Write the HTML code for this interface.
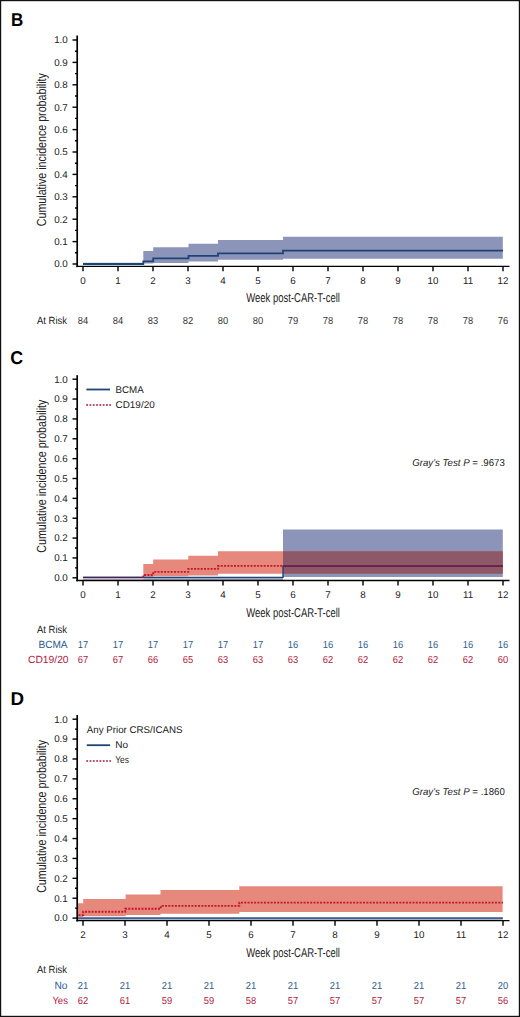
<!DOCTYPE html>
<html><head><meta charset="utf-8"><title>Cumulative incidence</title>
<style>html,body{margin:0;padding:0;background:#fff;}svg{display:block;}</style>
</head><body>
<svg width="520" height="1017" viewBox="0 0 520 1017" font-family='"Liberation Sans", sans-serif' text-rendering="geometricPrecision">
<rect x="0" y="0" width="520" height="1017" fill="#fff"/>
<path d="M83,262.8 L143.3,262.8 L143.3,251.0 L153.2,251.0 L153.2,247.3 L188.5,247.3 L188.5,243.8 L218,243.8 L218,240.0 L283,240.0 L283,236.8 L502.8,236.8 L502.8,258.8 L283,258.8 L283,259.8 L218,259.8 L218,261.4 L188.5,261.4 L188.5,262.9 L153.2,262.9 L153.2,263.6 L143.3,263.6 L143.3,264.6 L83,264.6Z" fill="#8c95b9"/>
<path d="M83,264.0H143.3V261.3H153.2V258.4H188.5V255.8H218V253.4H283V250.7H503" fill="none" stroke="#1e4475" stroke-width="1.8"/>
<line x1="77.2" y1="35.5" x2="77.2" y2="267.15000000000003" stroke="#000" stroke-width="1.7"/>
<line x1="76.3" y1="266.35" x2="509.5" y2="266.35" stroke="#000" stroke-width="1.4"/>
<line x1="72.5" y1="264.00" x2="77" y2="264.00" stroke="#000" stroke-width="1.4"/>
<text x="67.8" y="267.30" font-size="9.8" text-anchor="end" fill="#222" >0.0</text>
<line x1="75" y1="252.80" x2="77" y2="252.80" stroke="#000" stroke-width="1.4"/>
<line x1="72.5" y1="241.60" x2="77" y2="241.60" stroke="#000" stroke-width="1.4"/>
<text x="67.8" y="244.90" font-size="9.8" text-anchor="end" fill="#222" >0.1</text>
<line x1="75" y1="230.40" x2="77" y2="230.40" stroke="#000" stroke-width="1.4"/>
<line x1="72.5" y1="219.20" x2="77" y2="219.20" stroke="#000" stroke-width="1.4"/>
<text x="67.8" y="222.50" font-size="9.8" text-anchor="end" fill="#222" >0.2</text>
<line x1="75" y1="208.00" x2="77" y2="208.00" stroke="#000" stroke-width="1.4"/>
<line x1="72.5" y1="196.80" x2="77" y2="196.80" stroke="#000" stroke-width="1.4"/>
<text x="67.8" y="200.10" font-size="9.8" text-anchor="end" fill="#222" >0.3</text>
<line x1="75" y1="185.60" x2="77" y2="185.60" stroke="#000" stroke-width="1.4"/>
<line x1="72.5" y1="174.40" x2="77" y2="174.40" stroke="#000" stroke-width="1.4"/>
<text x="67.8" y="177.70" font-size="9.8" text-anchor="end" fill="#222" >0.4</text>
<line x1="75" y1="163.20" x2="77" y2="163.20" stroke="#000" stroke-width="1.4"/>
<line x1="72.5" y1="152.00" x2="77" y2="152.00" stroke="#000" stroke-width="1.4"/>
<text x="67.8" y="155.30" font-size="9.8" text-anchor="end" fill="#222" >0.5</text>
<line x1="75" y1="140.80" x2="77" y2="140.80" stroke="#000" stroke-width="1.4"/>
<line x1="72.5" y1="129.60" x2="77" y2="129.60" stroke="#000" stroke-width="1.4"/>
<text x="67.8" y="132.90" font-size="9.8" text-anchor="end" fill="#222" >0.6</text>
<line x1="75" y1="118.40" x2="77" y2="118.40" stroke="#000" stroke-width="1.4"/>
<line x1="72.5" y1="107.20" x2="77" y2="107.20" stroke="#000" stroke-width="1.4"/>
<text x="67.8" y="110.50" font-size="9.8" text-anchor="end" fill="#222" >0.7</text>
<line x1="75" y1="96.00" x2="77" y2="96.00" stroke="#000" stroke-width="1.4"/>
<line x1="72.5" y1="84.80" x2="77" y2="84.80" stroke="#000" stroke-width="1.4"/>
<text x="67.8" y="88.10" font-size="9.8" text-anchor="end" fill="#222" >0.8</text>
<line x1="75" y1="73.60" x2="77" y2="73.60" stroke="#000" stroke-width="1.4"/>
<line x1="72.5" y1="62.40" x2="77" y2="62.40" stroke="#000" stroke-width="1.4"/>
<text x="67.8" y="65.70" font-size="9.8" text-anchor="end" fill="#222" >0.9</text>
<line x1="75" y1="51.20" x2="77" y2="51.20" stroke="#000" stroke-width="1.4"/>
<line x1="72.5" y1="40.00" x2="77" y2="40.00" stroke="#000" stroke-width="1.4"/>
<text x="67.8" y="43.30" font-size="9.8" text-anchor="end" fill="#222" >1.0</text>
<line x1="83" y1="266.35" x2="83" y2="271.35" stroke="#000" stroke-width="1.4"/>
<text x="83" y="283.65" font-size="9.8" text-anchor="middle" fill="#222" >0</text>
<line x1="118" y1="266.35" x2="118" y2="271.35" stroke="#000" stroke-width="1.4"/>
<text x="118" y="283.65" font-size="9.8" text-anchor="middle" fill="#222" >1</text>
<line x1="153" y1="266.35" x2="153" y2="271.35" stroke="#000" stroke-width="1.4"/>
<text x="153" y="283.65" font-size="9.8" text-anchor="middle" fill="#222" >2</text>
<line x1="188" y1="266.35" x2="188" y2="271.35" stroke="#000" stroke-width="1.4"/>
<text x="188" y="283.65" font-size="9.8" text-anchor="middle" fill="#222" >3</text>
<line x1="223" y1="266.35" x2="223" y2="271.35" stroke="#000" stroke-width="1.4"/>
<text x="223" y="283.65" font-size="9.8" text-anchor="middle" fill="#222" >4</text>
<line x1="258" y1="266.35" x2="258" y2="271.35" stroke="#000" stroke-width="1.4"/>
<text x="258" y="283.65" font-size="9.8" text-anchor="middle" fill="#222" >5</text>
<line x1="293" y1="266.35" x2="293" y2="271.35" stroke="#000" stroke-width="1.4"/>
<text x="293" y="283.65" font-size="9.8" text-anchor="middle" fill="#222" >6</text>
<line x1="328" y1="266.35" x2="328" y2="271.35" stroke="#000" stroke-width="1.4"/>
<text x="328" y="283.65" font-size="9.8" text-anchor="middle" fill="#222" >7</text>
<line x1="363" y1="266.35" x2="363" y2="271.35" stroke="#000" stroke-width="1.4"/>
<text x="363" y="283.65" font-size="9.8" text-anchor="middle" fill="#222" >8</text>
<line x1="398" y1="266.35" x2="398" y2="271.35" stroke="#000" stroke-width="1.4"/>
<text x="398" y="283.65" font-size="9.8" text-anchor="middle" fill="#222" >9</text>
<line x1="433" y1="266.35" x2="433" y2="271.35" stroke="#000" stroke-width="1.4"/>
<text x="433" y="283.65" font-size="9.8" text-anchor="middle" fill="#222" >10</text>
<line x1="468" y1="266.35" x2="468" y2="271.35" stroke="#000" stroke-width="1.4"/>
<text x="468" y="283.65" font-size="9.8" text-anchor="middle" fill="#222" >11</text>
<line x1="503" y1="266.35" x2="503" y2="271.35" stroke="#000" stroke-width="1.4"/>
<text x="503" y="283.65" font-size="9.8" text-anchor="middle" fill="#222" >12</text>
<text x="293.1" y="302.45" font-size="12.8" text-anchor="middle" fill="#222" textLength="93.7" lengthAdjust="spacingAndGlyphs" >Week post-CAR-T-cell</text>
<text x="0" y="0" font-size="13.2" text-anchor="middle" fill="#222" textLength="153" lengthAdjust="spacingAndGlyphs" transform="translate(46.2 149.70) rotate(-90)">Cumulative incidence probability</text>
<text x="10.9" y="25.7" font-size="18.6" text-anchor="start" fill="#000" textLength="12.3" lengthAdjust="spacingAndGlyphs" font-weight="bold" >B</text>
<text x="67" y="323.5" font-size="10.4" text-anchor="end" fill="#222" textLength="30" lengthAdjust="spacingAndGlyphs" >At Risk</text>
<text x="83" y="323.5" font-size="10.2" text-anchor="middle" fill="#333" textLength="10.4" lengthAdjust="spacingAndGlyphs" >84</text>
<text x="118" y="323.5" font-size="10.2" text-anchor="middle" fill="#333" textLength="10.4" lengthAdjust="spacingAndGlyphs" >84</text>
<text x="153" y="323.5" font-size="10.2" text-anchor="middle" fill="#333" textLength="10.4" lengthAdjust="spacingAndGlyphs" >83</text>
<text x="188" y="323.5" font-size="10.2" text-anchor="middle" fill="#333" textLength="10.4" lengthAdjust="spacingAndGlyphs" >82</text>
<text x="223" y="323.5" font-size="10.2" text-anchor="middle" fill="#333" textLength="10.4" lengthAdjust="spacingAndGlyphs" >80</text>
<text x="258" y="323.5" font-size="10.2" text-anchor="middle" fill="#333" textLength="10.4" lengthAdjust="spacingAndGlyphs" >80</text>
<text x="293" y="323.5" font-size="10.2" text-anchor="middle" fill="#333" textLength="10.4" lengthAdjust="spacingAndGlyphs" >79</text>
<text x="328" y="323.5" font-size="10.2" text-anchor="middle" fill="#333" textLength="10.4" lengthAdjust="spacingAndGlyphs" >78</text>
<text x="363" y="323.5" font-size="10.2" text-anchor="middle" fill="#333" textLength="10.4" lengthAdjust="spacingAndGlyphs" >78</text>
<text x="398" y="323.5" font-size="10.2" text-anchor="middle" fill="#333" textLength="10.4" lengthAdjust="spacingAndGlyphs" >78</text>
<text x="433" y="323.5" font-size="10.2" text-anchor="middle" fill="#333" textLength="10.4" lengthAdjust="spacingAndGlyphs" >78</text>
<text x="468" y="323.5" font-size="10.2" text-anchor="middle" fill="#333" textLength="10.4" lengthAdjust="spacingAndGlyphs" >78</text>
<text x="503" y="323.5" font-size="10.2" text-anchor="middle" fill="#333" textLength="10.4" lengthAdjust="spacingAndGlyphs" >76</text>
<rect x="83" y="577" width="60.3" height="3" fill="#c9b9cf"/>
<rect x="143.3" y="577" width="139.7" height="3" fill="#9eaac2"/>
<path d="M283,529.6 L502.8,529.6 L502.8,577.0 L283,577.0Z" fill="#8c95b9"/>
<path d="M143.3,563.9 L153.2,563.9 L153.2,559.5 L188.3,559.5 L188.3,555.7 L218,555.7 L218,551.2 L502.8,551.2 L502.8,573.8 L218,573.8 L218,575.4 L188.3,575.4 L188.3,576.3 L153.2,576.3 L153.2,576.8 L143.3,576.8Z" fill="#e6887c"/>
<rect x="283" y="551.2" width="219.8" height="22.6" fill="#8d5867"/>
<path d="M83,577.4H283V566.2H503" fill="none" stroke="#1e4475" stroke-width="1.4"/>
<line x1="83" y1="577.4" x2="143.3" y2="577.4" stroke="#3b2456" stroke-width="1.4"/>
<path d="M143.3,577.5H143.3V575.0H153.2V571.9H188.3V568.9H218V565.9H283" fill="none" stroke="#c5182e" stroke-width="1.9" stroke-dasharray="2 1.3"/>
<line x1="283" y1="566.1" x2="503" y2="566.1" stroke="#721c44" stroke-width="1.9"/>
<line x1="77.2" y1="375.2" x2="77.2" y2="581.3" stroke="#000" stroke-width="1.7"/>
<line x1="76.3" y1="580.5" x2="509.5" y2="580.5" stroke="#000" stroke-width="1.4"/>
<line x1="72.5" y1="577.80" x2="77" y2="577.80" stroke="#000" stroke-width="1.4"/>
<text x="67.8" y="581.10" font-size="9.8" text-anchor="end" fill="#222" >0.0</text>
<line x1="75" y1="567.87" x2="77" y2="567.87" stroke="#000" stroke-width="1.4"/>
<line x1="72.5" y1="557.94" x2="77" y2="557.94" stroke="#000" stroke-width="1.4"/>
<text x="67.8" y="561.24" font-size="9.8" text-anchor="end" fill="#222" >0.1</text>
<line x1="75" y1="548.01" x2="77" y2="548.01" stroke="#000" stroke-width="1.4"/>
<line x1="72.5" y1="538.08" x2="77" y2="538.08" stroke="#000" stroke-width="1.4"/>
<text x="67.8" y="541.38" font-size="9.8" text-anchor="end" fill="#222" >0.2</text>
<line x1="75" y1="528.15" x2="77" y2="528.15" stroke="#000" stroke-width="1.4"/>
<line x1="72.5" y1="518.22" x2="77" y2="518.22" stroke="#000" stroke-width="1.4"/>
<text x="67.8" y="521.52" font-size="9.8" text-anchor="end" fill="#222" >0.3</text>
<line x1="75" y1="508.29" x2="77" y2="508.29" stroke="#000" stroke-width="1.4"/>
<line x1="72.5" y1="498.36" x2="77" y2="498.36" stroke="#000" stroke-width="1.4"/>
<text x="67.8" y="501.66" font-size="9.8" text-anchor="end" fill="#222" >0.4</text>
<line x1="75" y1="488.43" x2="77" y2="488.43" stroke="#000" stroke-width="1.4"/>
<line x1="72.5" y1="478.50" x2="77" y2="478.50" stroke="#000" stroke-width="1.4"/>
<text x="67.8" y="481.80" font-size="9.8" text-anchor="end" fill="#222" >0.5</text>
<line x1="75" y1="468.57" x2="77" y2="468.57" stroke="#000" stroke-width="1.4"/>
<line x1="72.5" y1="458.64" x2="77" y2="458.64" stroke="#000" stroke-width="1.4"/>
<text x="67.8" y="461.94" font-size="9.8" text-anchor="end" fill="#222" >0.6</text>
<line x1="75" y1="448.71" x2="77" y2="448.71" stroke="#000" stroke-width="1.4"/>
<line x1="72.5" y1="438.78" x2="77" y2="438.78" stroke="#000" stroke-width="1.4"/>
<text x="67.8" y="442.08" font-size="9.8" text-anchor="end" fill="#222" >0.7</text>
<line x1="75" y1="428.85" x2="77" y2="428.85" stroke="#000" stroke-width="1.4"/>
<line x1="72.5" y1="418.92" x2="77" y2="418.92" stroke="#000" stroke-width="1.4"/>
<text x="67.8" y="422.22" font-size="9.8" text-anchor="end" fill="#222" >0.8</text>
<line x1="75" y1="408.99" x2="77" y2="408.99" stroke="#000" stroke-width="1.4"/>
<line x1="72.5" y1="399.06" x2="77" y2="399.06" stroke="#000" stroke-width="1.4"/>
<text x="67.8" y="402.36" font-size="9.8" text-anchor="end" fill="#222" >0.9</text>
<line x1="75" y1="389.13" x2="77" y2="389.13" stroke="#000" stroke-width="1.4"/>
<line x1="72.5" y1="379.20" x2="77" y2="379.20" stroke="#000" stroke-width="1.4"/>
<text x="67.8" y="382.50" font-size="9.8" text-anchor="end" fill="#222" >1.0</text>
<line x1="83" y1="580.5" x2="83" y2="585.5" stroke="#000" stroke-width="1.4"/>
<text x="83" y="597.80" font-size="9.8" text-anchor="middle" fill="#222" >0</text>
<line x1="118" y1="580.5" x2="118" y2="585.5" stroke="#000" stroke-width="1.4"/>
<text x="118" y="597.80" font-size="9.8" text-anchor="middle" fill="#222" >1</text>
<line x1="153" y1="580.5" x2="153" y2="585.5" stroke="#000" stroke-width="1.4"/>
<text x="153" y="597.80" font-size="9.8" text-anchor="middle" fill="#222" >2</text>
<line x1="188" y1="580.5" x2="188" y2="585.5" stroke="#000" stroke-width="1.4"/>
<text x="188" y="597.80" font-size="9.8" text-anchor="middle" fill="#222" >3</text>
<line x1="223" y1="580.5" x2="223" y2="585.5" stroke="#000" stroke-width="1.4"/>
<text x="223" y="597.80" font-size="9.8" text-anchor="middle" fill="#222" >4</text>
<line x1="258" y1="580.5" x2="258" y2="585.5" stroke="#000" stroke-width="1.4"/>
<text x="258" y="597.80" font-size="9.8" text-anchor="middle" fill="#222" >5</text>
<line x1="293" y1="580.5" x2="293" y2="585.5" stroke="#000" stroke-width="1.4"/>
<text x="293" y="597.80" font-size="9.8" text-anchor="middle" fill="#222" >6</text>
<line x1="328" y1="580.5" x2="328" y2="585.5" stroke="#000" stroke-width="1.4"/>
<text x="328" y="597.80" font-size="9.8" text-anchor="middle" fill="#222" >7</text>
<line x1="363" y1="580.5" x2="363" y2="585.5" stroke="#000" stroke-width="1.4"/>
<text x="363" y="597.80" font-size="9.8" text-anchor="middle" fill="#222" >8</text>
<line x1="398" y1="580.5" x2="398" y2="585.5" stroke="#000" stroke-width="1.4"/>
<text x="398" y="597.80" font-size="9.8" text-anchor="middle" fill="#222" >9</text>
<line x1="433" y1="580.5" x2="433" y2="585.5" stroke="#000" stroke-width="1.4"/>
<text x="433" y="597.80" font-size="9.8" text-anchor="middle" fill="#222" >10</text>
<line x1="468" y1="580.5" x2="468" y2="585.5" stroke="#000" stroke-width="1.4"/>
<text x="468" y="597.80" font-size="9.8" text-anchor="middle" fill="#222" >11</text>
<line x1="503" y1="580.5" x2="503" y2="585.5" stroke="#000" stroke-width="1.4"/>
<text x="503" y="597.80" font-size="9.8" text-anchor="middle" fill="#222" >12</text>
<text x="293.1" y="616.60" font-size="12.8" text-anchor="middle" fill="#222" textLength="93.7" lengthAdjust="spacingAndGlyphs" >Week post-CAR-T-cell</text>
<text x="0" y="0" font-size="13.2" text-anchor="middle" fill="#222" textLength="153" lengthAdjust="spacingAndGlyphs" transform="translate(46.2 476.20) rotate(-90)">Cumulative incidence probability</text>
<text x="10.2" y="364.3" font-size="18.6" text-anchor="start" fill="#000" textLength="12.9" lengthAdjust="spacingAndGlyphs" font-weight="bold" >C</text>
<line x1="86.4" y1="389.5" x2="110" y2="389.5" stroke="#1e4475" stroke-width="1.8"/>
<line x1="86.2" y1="404.9" x2="111" y2="404.9" stroke="#a8193a" stroke-width="1.5" stroke-dasharray="1.8 1.5"/>
<text x="115.5" y="392.5" font-size="9.8" text-anchor="start" fill="#222" textLength="28.2" lengthAdjust="spacingAndGlyphs" >BCMA</text>
<text x="115.5" y="407.7" font-size="9.8" text-anchor="start" fill="#222" textLength="39.2" lengthAdjust="spacingAndGlyphs" >CD19/20</text>
<text x="412.2" y="465.8" font-size="10" fill="#222" textLength="92.6" lengthAdjust="spacingAndGlyphs"><tspan font-style="italic">Gray’s Test P</tspan> = .9673</text>
<text x="67" y="633.0" font-size="10.4" text-anchor="end" fill="#222" textLength="30" lengthAdjust="spacingAndGlyphs" >At Risk</text>
<text x="67.6" y="648.1" font-size="10.4" text-anchor="end" fill="#2e5d8e" textLength="29.2" lengthAdjust="spacingAndGlyphs" >BCMA</text>
<text x="68.6" y="663.3" font-size="10.4" text-anchor="end" fill="#b0213e" textLength="40.6" lengthAdjust="spacingAndGlyphs" >CD19/20</text>
<text x="83" y="648.1" font-size="10.2" text-anchor="middle" fill="#2e5d8e" textLength="10.4" lengthAdjust="spacingAndGlyphs" >17</text>
<text x="118" y="648.1" font-size="10.2" text-anchor="middle" fill="#2e5d8e" textLength="10.4" lengthAdjust="spacingAndGlyphs" >17</text>
<text x="153" y="648.1" font-size="10.2" text-anchor="middle" fill="#2e5d8e" textLength="10.4" lengthAdjust="spacingAndGlyphs" >17</text>
<text x="188" y="648.1" font-size="10.2" text-anchor="middle" fill="#2e5d8e" textLength="10.4" lengthAdjust="spacingAndGlyphs" >17</text>
<text x="223" y="648.1" font-size="10.2" text-anchor="middle" fill="#2e5d8e" textLength="10.4" lengthAdjust="spacingAndGlyphs" >17</text>
<text x="258" y="648.1" font-size="10.2" text-anchor="middle" fill="#2e5d8e" textLength="10.4" lengthAdjust="spacingAndGlyphs" >17</text>
<text x="293" y="648.1" font-size="10.2" text-anchor="middle" fill="#2e5d8e" textLength="10.4" lengthAdjust="spacingAndGlyphs" >16</text>
<text x="328" y="648.1" font-size="10.2" text-anchor="middle" fill="#2e5d8e" textLength="10.4" lengthAdjust="spacingAndGlyphs" >16</text>
<text x="363" y="648.1" font-size="10.2" text-anchor="middle" fill="#2e5d8e" textLength="10.4" lengthAdjust="spacingAndGlyphs" >16</text>
<text x="398" y="648.1" font-size="10.2" text-anchor="middle" fill="#2e5d8e" textLength="10.4" lengthAdjust="spacingAndGlyphs" >16</text>
<text x="433" y="648.1" font-size="10.2" text-anchor="middle" fill="#2e5d8e" textLength="10.4" lengthAdjust="spacingAndGlyphs" >16</text>
<text x="468" y="648.1" font-size="10.2" text-anchor="middle" fill="#2e5d8e" textLength="10.4" lengthAdjust="spacingAndGlyphs" >16</text>
<text x="503" y="648.1" font-size="10.2" text-anchor="middle" fill="#2e5d8e" textLength="10.4" lengthAdjust="spacingAndGlyphs" >16</text>
<text x="83" y="663.3" font-size="10.2" text-anchor="middle" fill="#b0213e" textLength="10.4" lengthAdjust="spacingAndGlyphs" >67</text>
<text x="118" y="663.3" font-size="10.2" text-anchor="middle" fill="#b0213e" textLength="10.4" lengthAdjust="spacingAndGlyphs" >67</text>
<text x="153" y="663.3" font-size="10.2" text-anchor="middle" fill="#b0213e" textLength="10.4" lengthAdjust="spacingAndGlyphs" >66</text>
<text x="188" y="663.3" font-size="10.2" text-anchor="middle" fill="#b0213e" textLength="10.4" lengthAdjust="spacingAndGlyphs" >65</text>
<text x="223" y="663.3" font-size="10.2" text-anchor="middle" fill="#b0213e" textLength="10.4" lengthAdjust="spacingAndGlyphs" >63</text>
<text x="258" y="663.3" font-size="10.2" text-anchor="middle" fill="#b0213e" textLength="10.4" lengthAdjust="spacingAndGlyphs" >63</text>
<text x="293" y="663.3" font-size="10.2" text-anchor="middle" fill="#b0213e" textLength="10.4" lengthAdjust="spacingAndGlyphs" >63</text>
<text x="328" y="663.3" font-size="10.2" text-anchor="middle" fill="#b0213e" textLength="10.4" lengthAdjust="spacingAndGlyphs" >62</text>
<text x="363" y="663.3" font-size="10.2" text-anchor="middle" fill="#b0213e" textLength="10.4" lengthAdjust="spacingAndGlyphs" >62</text>
<text x="398" y="663.3" font-size="10.2" text-anchor="middle" fill="#b0213e" textLength="10.4" lengthAdjust="spacingAndGlyphs" >62</text>
<text x="433" y="663.3" font-size="10.2" text-anchor="middle" fill="#b0213e" textLength="10.4" lengthAdjust="spacingAndGlyphs" >62</text>
<text x="468" y="663.3" font-size="10.2" text-anchor="middle" fill="#b0213e" textLength="10.4" lengthAdjust="spacingAndGlyphs" >62</text>
<text x="503" y="663.3" font-size="10.2" text-anchor="middle" fill="#b0213e" textLength="10.4" lengthAdjust="spacingAndGlyphs" >60</text>
<path d="M77.8,903.3 L83.2,903.3 L83.2,898.9 L125.6,898.9 L125.6,894.4 L160.5,894.4 L160.5,890.1 L239.3,890.1 L239.3,886.3 L502.6,886.3 L502.6,911.9 L239.3,911.9 L239.3,913.8 L160.5,913.8 L160.5,915.1 L125.6,915.1 L125.6,916.3 L83.2,916.3 L83.2,916.9 L77.8,916.9Z" fill="#e6887c"/>
<rect x="77.8" y="917.2" width="424.8" height="2.8" fill="#a3b3cb"/>
<path d="M77.8,918.1H503" fill="none" stroke="#1e4475" stroke-width="1.35"/>
<path d="M78.5,915.1H83.2V911.7H125.2V908.8H160.8V905.9H239.3V902.6H503" fill="none" stroke="#c5182e" stroke-width="1.9" stroke-dasharray="2 1.3"/>
<line x1="77.2" y1="715.0" x2="77.2" y2="921.4499999999999" stroke="#000" stroke-width="1.7"/>
<line x1="76.3" y1="920.65" x2="509.5" y2="920.65" stroke="#000" stroke-width="1.4"/>
<line x1="72.5" y1="918.10" x2="77" y2="918.10" stroke="#000" stroke-width="1.4"/>
<text x="67.8" y="921.40" font-size="9.8" text-anchor="end" fill="#222" >0.0</text>
<line x1="75" y1="908.15" x2="77" y2="908.15" stroke="#000" stroke-width="1.4"/>
<line x1="72.5" y1="898.21" x2="77" y2="898.21" stroke="#000" stroke-width="1.4"/>
<text x="67.8" y="901.51" font-size="9.8" text-anchor="end" fill="#222" >0.1</text>
<line x1="75" y1="888.26" x2="77" y2="888.26" stroke="#000" stroke-width="1.4"/>
<line x1="72.5" y1="878.32" x2="77" y2="878.32" stroke="#000" stroke-width="1.4"/>
<text x="67.8" y="881.62" font-size="9.8" text-anchor="end" fill="#222" >0.2</text>
<line x1="75" y1="868.38" x2="77" y2="868.38" stroke="#000" stroke-width="1.4"/>
<line x1="72.5" y1="858.43" x2="77" y2="858.43" stroke="#000" stroke-width="1.4"/>
<text x="67.8" y="861.73" font-size="9.8" text-anchor="end" fill="#222" >0.3</text>
<line x1="75" y1="848.49" x2="77" y2="848.49" stroke="#000" stroke-width="1.4"/>
<line x1="72.5" y1="838.54" x2="77" y2="838.54" stroke="#000" stroke-width="1.4"/>
<text x="67.8" y="841.84" font-size="9.8" text-anchor="end" fill="#222" >0.4</text>
<line x1="75" y1="828.60" x2="77" y2="828.60" stroke="#000" stroke-width="1.4"/>
<line x1="72.5" y1="818.65" x2="77" y2="818.65" stroke="#000" stroke-width="1.4"/>
<text x="67.8" y="821.95" font-size="9.8" text-anchor="end" fill="#222" >0.5</text>
<line x1="75" y1="808.71" x2="77" y2="808.71" stroke="#000" stroke-width="1.4"/>
<line x1="72.5" y1="798.76" x2="77" y2="798.76" stroke="#000" stroke-width="1.4"/>
<text x="67.8" y="802.06" font-size="9.8" text-anchor="end" fill="#222" >0.6</text>
<line x1="75" y1="788.82" x2="77" y2="788.82" stroke="#000" stroke-width="1.4"/>
<line x1="72.5" y1="778.87" x2="77" y2="778.87" stroke="#000" stroke-width="1.4"/>
<text x="67.8" y="782.17" font-size="9.8" text-anchor="end" fill="#222" >0.7</text>
<line x1="75" y1="768.93" x2="77" y2="768.93" stroke="#000" stroke-width="1.4"/>
<line x1="72.5" y1="758.98" x2="77" y2="758.98" stroke="#000" stroke-width="1.4"/>
<text x="67.8" y="762.28" font-size="9.8" text-anchor="end" fill="#222" >0.8</text>
<line x1="75" y1="749.04" x2="77" y2="749.04" stroke="#000" stroke-width="1.4"/>
<line x1="72.5" y1="739.09" x2="77" y2="739.09" stroke="#000" stroke-width="1.4"/>
<text x="67.8" y="742.39" font-size="9.8" text-anchor="end" fill="#222" >0.9</text>
<line x1="75" y1="729.14" x2="77" y2="729.14" stroke="#000" stroke-width="1.4"/>
<line x1="72.5" y1="719.20" x2="77" y2="719.20" stroke="#000" stroke-width="1.4"/>
<text x="67.8" y="722.50" font-size="9.8" text-anchor="end" fill="#222" >1.0</text>
<line x1="83" y1="920.65" x2="83" y2="925.65" stroke="#000" stroke-width="1.4"/>
<text x="83" y="937.95" font-size="9.8" text-anchor="middle" fill="#222" >2</text>
<line x1="125" y1="920.65" x2="125" y2="925.65" stroke="#000" stroke-width="1.4"/>
<text x="125" y="937.95" font-size="9.8" text-anchor="middle" fill="#222" >3</text>
<line x1="167" y1="920.65" x2="167" y2="925.65" stroke="#000" stroke-width="1.4"/>
<text x="167" y="937.95" font-size="9.8" text-anchor="middle" fill="#222" >4</text>
<line x1="209" y1="920.65" x2="209" y2="925.65" stroke="#000" stroke-width="1.4"/>
<text x="209" y="937.95" font-size="9.8" text-anchor="middle" fill="#222" >5</text>
<line x1="251" y1="920.65" x2="251" y2="925.65" stroke="#000" stroke-width="1.4"/>
<text x="251" y="937.95" font-size="9.8" text-anchor="middle" fill="#222" >6</text>
<line x1="293" y1="920.65" x2="293" y2="925.65" stroke="#000" stroke-width="1.4"/>
<text x="293" y="937.95" font-size="9.8" text-anchor="middle" fill="#222" >7</text>
<line x1="335" y1="920.65" x2="335" y2="925.65" stroke="#000" stroke-width="1.4"/>
<text x="335" y="937.95" font-size="9.8" text-anchor="middle" fill="#222" >8</text>
<line x1="377" y1="920.65" x2="377" y2="925.65" stroke="#000" stroke-width="1.4"/>
<text x="377" y="937.95" font-size="9.8" text-anchor="middle" fill="#222" >9</text>
<line x1="419" y1="920.65" x2="419" y2="925.65" stroke="#000" stroke-width="1.4"/>
<text x="419" y="937.95" font-size="9.8" text-anchor="middle" fill="#222" >10</text>
<line x1="461" y1="920.65" x2="461" y2="925.65" stroke="#000" stroke-width="1.4"/>
<text x="461" y="937.95" font-size="9.8" text-anchor="middle" fill="#222" >11</text>
<line x1="503" y1="920.65" x2="503" y2="925.65" stroke="#000" stroke-width="1.4"/>
<text x="503" y="937.95" font-size="9.8" text-anchor="middle" fill="#222" >12</text>
<text x="293.1" y="956.75" font-size="12.8" text-anchor="middle" fill="#222" textLength="93.7" lengthAdjust="spacingAndGlyphs" >Week post-CAR-T-cell</text>
<text x="0" y="0" font-size="13.2" text-anchor="middle" fill="#222" textLength="153" lengthAdjust="spacingAndGlyphs" transform="translate(46.2 816.35) rotate(-90)">Cumulative incidence probability</text>
<text x="10.6" y="704.7" font-size="18.6" text-anchor="start" fill="#000" textLength="13.6" lengthAdjust="spacingAndGlyphs" font-weight="bold" >D</text>
<text x="86.8" y="732.5" font-size="9.8" text-anchor="start" fill="#222" textLength="95.7" lengthAdjust="spacingAndGlyphs" >Any Prior CRS/ICANS</text>
<line x1="86.8" y1="745.2" x2="110.1" y2="745.2" stroke="#1e4475" stroke-width="1.8"/>
<line x1="86.3" y1="760.9" x2="111" y2="760.9" stroke="#a8193a" stroke-width="1.5" stroke-dasharray="1.8 1.5"/>
<text x="115.2" y="747.9" font-size="9.8" text-anchor="start" fill="#222" textLength="12.8" lengthAdjust="spacingAndGlyphs" >No</text>
<text x="115.2" y="763.1" font-size="9.8" text-anchor="start" fill="#222" textLength="13.8" lengthAdjust="spacingAndGlyphs" >Yes</text>
<text x="412.2" y="794.8" font-size="10" fill="#222" textLength="92.6" lengthAdjust="spacingAndGlyphs"><tspan font-style="italic">Gray’s Test P</tspan> = .1860</text>
<text x="67" y="973.1" font-size="10.4" text-anchor="end" fill="#222" textLength="30" lengthAdjust="spacingAndGlyphs" >At Risk</text>
<text x="67.4" y="988.9" font-size="10.4" text-anchor="end" fill="#2e5d8e" textLength="13.0" lengthAdjust="spacingAndGlyphs" >No</text>
<text x="67.9" y="1004.3" font-size="10.4" text-anchor="end" fill="#b0213e" textLength="15.5" lengthAdjust="spacingAndGlyphs" >Yes</text>
<text x="83" y="988.9" font-size="10.2" text-anchor="middle" fill="#2e5d8e" textLength="10.4" lengthAdjust="spacingAndGlyphs" >21</text>
<text x="125" y="988.9" font-size="10.2" text-anchor="middle" fill="#2e5d8e" textLength="10.4" lengthAdjust="spacingAndGlyphs" >21</text>
<text x="167" y="988.9" font-size="10.2" text-anchor="middle" fill="#2e5d8e" textLength="10.4" lengthAdjust="spacingAndGlyphs" >21</text>
<text x="209" y="988.9" font-size="10.2" text-anchor="middle" fill="#2e5d8e" textLength="10.4" lengthAdjust="spacingAndGlyphs" >21</text>
<text x="251" y="988.9" font-size="10.2" text-anchor="middle" fill="#2e5d8e" textLength="10.4" lengthAdjust="spacingAndGlyphs" >21</text>
<text x="293" y="988.9" font-size="10.2" text-anchor="middle" fill="#2e5d8e" textLength="10.4" lengthAdjust="spacingAndGlyphs" >21</text>
<text x="335" y="988.9" font-size="10.2" text-anchor="middle" fill="#2e5d8e" textLength="10.4" lengthAdjust="spacingAndGlyphs" >21</text>
<text x="377" y="988.9" font-size="10.2" text-anchor="middle" fill="#2e5d8e" textLength="10.4" lengthAdjust="spacingAndGlyphs" >21</text>
<text x="419" y="988.9" font-size="10.2" text-anchor="middle" fill="#2e5d8e" textLength="10.4" lengthAdjust="spacingAndGlyphs" >21</text>
<text x="461" y="988.9" font-size="10.2" text-anchor="middle" fill="#2e5d8e" textLength="10.4" lengthAdjust="spacingAndGlyphs" >21</text>
<text x="503" y="988.9" font-size="10.2" text-anchor="middle" fill="#2e5d8e" textLength="10.4" lengthAdjust="spacingAndGlyphs" >20</text>
<text x="83" y="1004.3" font-size="10.2" text-anchor="middle" fill="#b0213e" textLength="10.4" lengthAdjust="spacingAndGlyphs" >62</text>
<text x="125" y="1004.3" font-size="10.2" text-anchor="middle" fill="#b0213e" textLength="10.4" lengthAdjust="spacingAndGlyphs" >61</text>
<text x="167" y="1004.3" font-size="10.2" text-anchor="middle" fill="#b0213e" textLength="10.4" lengthAdjust="spacingAndGlyphs" >59</text>
<text x="209" y="1004.3" font-size="10.2" text-anchor="middle" fill="#b0213e" textLength="10.4" lengthAdjust="spacingAndGlyphs" >59</text>
<text x="251" y="1004.3" font-size="10.2" text-anchor="middle" fill="#b0213e" textLength="10.4" lengthAdjust="spacingAndGlyphs" >58</text>
<text x="293" y="1004.3" font-size="10.2" text-anchor="middle" fill="#b0213e" textLength="10.4" lengthAdjust="spacingAndGlyphs" >57</text>
<text x="335" y="1004.3" font-size="10.2" text-anchor="middle" fill="#b0213e" textLength="10.4" lengthAdjust="spacingAndGlyphs" >57</text>
<text x="377" y="1004.3" font-size="10.2" text-anchor="middle" fill="#b0213e" textLength="10.4" lengthAdjust="spacingAndGlyphs" >57</text>
<text x="419" y="1004.3" font-size="10.2" text-anchor="middle" fill="#b0213e" textLength="10.4" lengthAdjust="spacingAndGlyphs" >57</text>
<text x="461" y="1004.3" font-size="10.2" text-anchor="middle" fill="#b0213e" textLength="10.4" lengthAdjust="spacingAndGlyphs" >57</text>
<text x="503" y="1004.3" font-size="10.2" text-anchor="middle" fill="#b0213e" textLength="10.4" lengthAdjust="spacingAndGlyphs" >56</text>
<rect x="0.6" y="0.6" width="518.8" height="1015.8" fill="none" stroke="#111" stroke-width="1.2"/>
</svg>
</body></html>
